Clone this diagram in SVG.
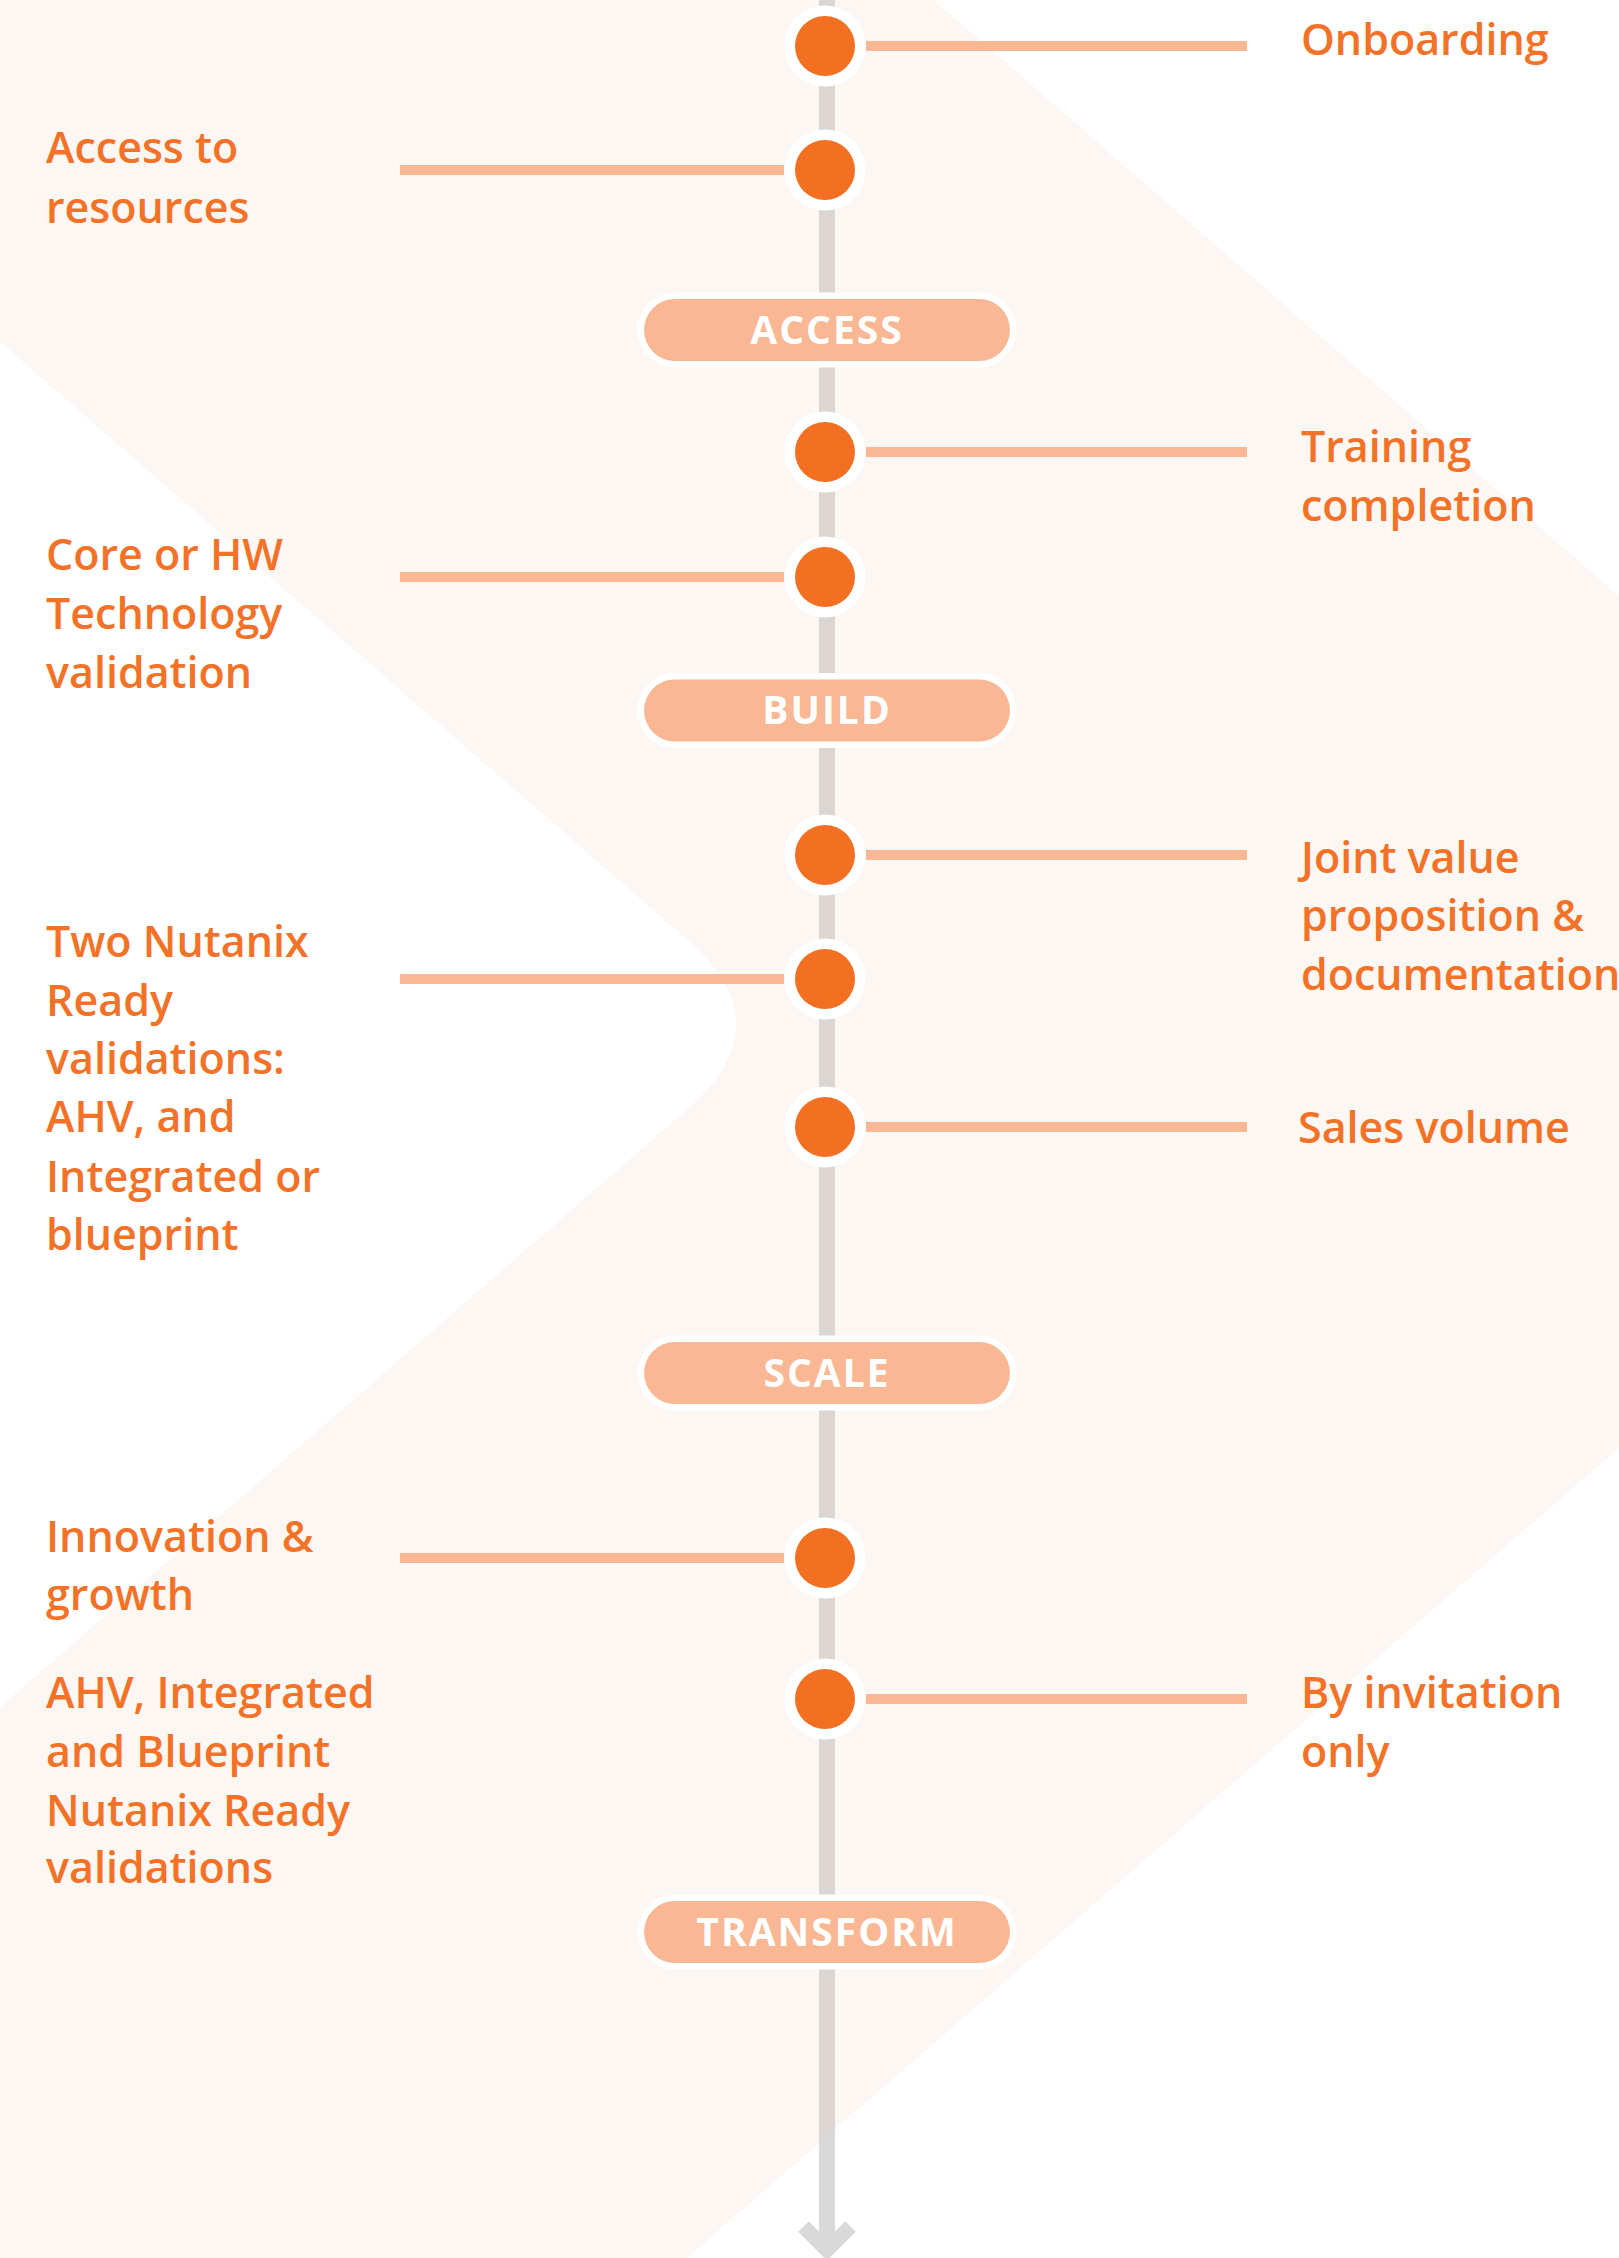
<svg xmlns="http://www.w3.org/2000/svg" width="1619" height="2258" viewBox="0 0 1619 2258">
<style>
.lbl{font-family:"Open Sans","Liberation Sans",sans-serif;font-size:43px;font-weight:600;fill:#F37227}
.pilltxt{font-family:"Open Sans","Liberation Sans",sans-serif;font-size:39px;font-weight:700;fill:#FFFFFF;text-anchor:middle;letter-spacing:2px}
.ring{fill:#FFFFFF}
.dot{fill:#F37022}
.tick{stroke:#F9B793;stroke-width:10;fill:none}
.pillout{fill:#FFFFFF}
.pillin{fill:#F9B793}
</style>
<rect x="0" y="0" width="1619" height="2258" fill="#FFFFFF"/>
<g id="connectors">
<line x1="827" y1="0" x2="827" y2="2246" stroke="#D9D9D9" stroke-width="16"/>
<polyline points="803.5,2226.5 827,2250 850.5,2226.5" fill="none" stroke="#D9D9D9" stroke-width="15" stroke-linejoin="miter"/>
</g>
<path id="background-band" d="M0,0 L934,0 L1619,596 L1619,1448 L687,2258 L0,2258 L0,1707 L688,1108.4 Q784.5,1024.5 688,940.6 L0,342 Z" fill="rgba(232,194,164,0.132)"/>
<g id="ticks">
<line class="tick" x1="866" y1="46" x2="1247" y2="46"/>
<line class="tick" x1="400" y1="170" x2="784" y2="170"/>
<line class="tick" x1="866" y1="452" x2="1247" y2="452"/>
<line class="tick" x1="400" y1="577" x2="784" y2="577"/>
<line class="tick" x1="866" y1="855" x2="1247" y2="855"/>
<line class="tick" x1="400" y1="979" x2="784" y2="979"/>
<line class="tick" x1="866" y1="1127" x2="1247" y2="1127"/>
<line class="tick" x1="400" y1="1558" x2="784" y2="1558"/>
<line class="tick" x1="866" y1="1699" x2="1247" y2="1699"/>
</g>
<g id="node-onboarding">
<circle class="ring" cx="825" cy="46" r="40.5"/><circle class="dot" cx="825" cy="46" r="30"/>
<text class="lbl" x="1301" y="55">Onboarding</text>
</g>
<g id="node-access-resources">
<circle class="ring" cx="825" cy="170" r="40.5"/><circle class="dot" cx="825" cy="170" r="30"/>
<text class="lbl" x="46" y="163">Access to</text>
<text class="lbl" x="46" y="222.5">resources</text>
</g>
<g id="stage-access">
<rect class="pillout" x="637.5" y="292.5" width="379" height="75" rx="37.5"/>
<rect class="pillin" x="644" y="299" width="366" height="62" rx="31"/>
<text class="pilltxt" x="827" y="343.5">ACCESS</text>
</g>
<g id="node-training">
<circle class="ring" cx="825" cy="452" r="40.5"/><circle class="dot" cx="825" cy="452" r="30"/>
<text class="lbl" x="1301" y="461.7">Training</text>
<text class="lbl" x="1301" y="520.7">completion</text>
</g>
<g id="node-core-hw">
<circle class="ring" cx="825" cy="577" r="40.5"/><circle class="dot" cx="825" cy="577" r="30"/>
<text class="lbl" x="46" y="570">Core or HW</text>
<text class="lbl" x="46" y="629">Technology</text>
<text class="lbl" x="46" y="688">validation</text>
</g>
<g id="stage-build">
<rect class="pillout" x="637.5" y="673" width="379" height="75" rx="37.5"/>
<rect class="pillin" x="644" y="679.5" width="366" height="62" rx="31"/>
<text class="pilltxt" x="827" y="724">BUILD</text>
</g>
<g id="node-joint-value">
<circle class="ring" cx="825" cy="855" r="40.5"/><circle class="dot" cx="825" cy="855" r="30"/>
<text class="lbl" x="1301" y="873.3">Joint value</text>
<text class="lbl" x="1301" y="931">proposition &amp;</text>
<text class="lbl" x="1301" y="990">documentation</text>
</g>
<g id="node-two-nutanix">
<circle class="ring" cx="825" cy="979" r="40.5"/><circle class="dot" cx="825" cy="979" r="30"/>
<text class="lbl" x="46" y="957.3">Two Nutanix</text>
<text class="lbl" x="46" y="1015.7">Ready</text>
<text class="lbl" x="46" y="1073.5">validations:</text>
<text class="lbl" x="46" y="1132.3">AHV, and</text>
<text class="lbl" x="46" y="1191.5">Integrated or</text>
<text class="lbl" x="46" y="1250">blueprint</text>
</g>
<g id="node-sales">
<circle class="ring" cx="825" cy="1127" r="40.5"/><circle class="dot" cx="825" cy="1127" r="30"/>
<text class="lbl" x="1298" y="1143.3">Sales volume</text>
</g>
<g id="stage-scale">
<rect class="pillout" x="637.5" y="1335.5" width="379" height="75" rx="37.5"/>
<rect class="pillin" x="644" y="1342" width="366" height="62" rx="31"/>
<text class="pilltxt" x="827" y="1386.5">SCALE</text>
</g>
<g id="node-innovation">
<circle class="ring" cx="825" cy="1558" r="40.5"/><circle class="dot" cx="825" cy="1558" r="30"/>
<text class="lbl" x="46" y="1551.7">Innovation &amp;</text>
<text class="lbl" x="46" y="1610">growth</text>
</g>
<g id="node-invitation">
<circle class="ring" cx="825" cy="1699" r="40.5"/><circle class="dot" cx="825" cy="1699" r="30"/>
<text class="lbl" x="1301" y="1708.3">By invitation</text>
<text class="lbl" x="1301" y="1767.3">only</text>
</g>
<g id="node-ahv-integrated">
<text class="lbl" x="46" y="1708.3">AHV, Integrated</text>
<text class="lbl" x="46" y="1766.7">and Blueprint</text>
<text class="lbl" x="46" y="1826">Nutanix Ready</text>
<text class="lbl" x="46" y="1883.3">validations</text>
</g>
<g id="stage-transform">
<rect class="pillout" x="637.5" y="1894.5" width="379" height="75" rx="37.5"/>
<rect class="pillin" x="644" y="1901" width="366" height="62" rx="31"/>
<text class="pilltxt" x="827" y="1945.5">TRANSFORM</text>
</g>
</svg>
